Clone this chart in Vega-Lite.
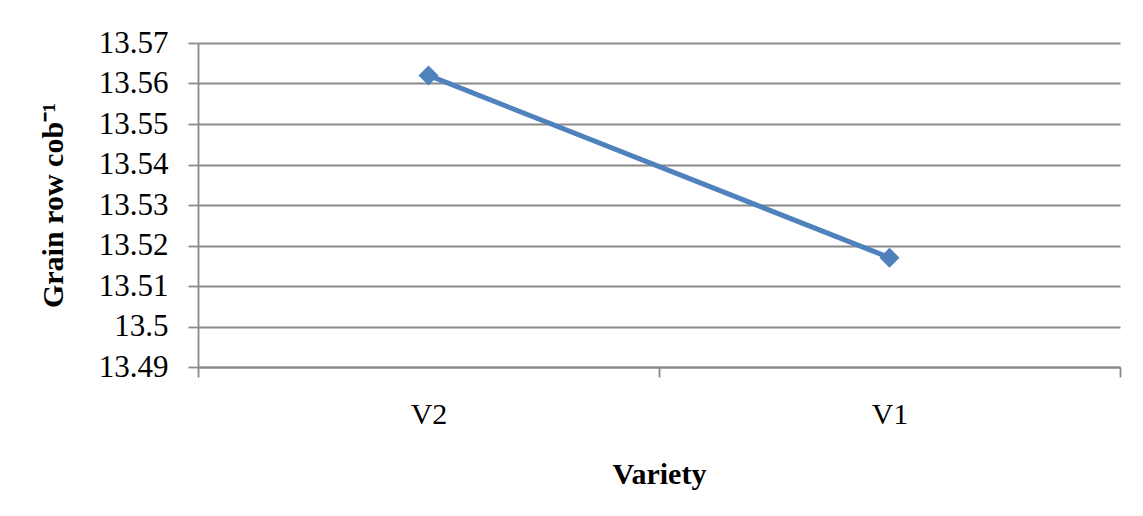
{
  "$schema": "https://vega.github.io/schema/vega-lite/v6.json",
  "width": 922,
  "height": 324,
  "autosize": "none",
  "padding": {"left": 198, "top": 43, "right": 23, "bottom": 149},
  "background": "white",
  "config": {
    "view": {"stroke": null},
    "font": "Liberation Serif"
  },
  "data": {
    "values": [
      {"Variety": "V2", "value": 13.562},
      {"Variety": "V1", "value": 13.517}
    ]
  },
  "mark": {
    "type": "line",
    "color": "#4F81BD",
    "strokeWidth": 5,
    "point": {"shape": "diamond", "size": 400, "filled": true, "color": "#4F81BD", "opacity": 1}
  },
  "encoding": {
    "x": {
      "field": "Variety",
      "type": "nominal",
      "sort": ["V2", "V1"],
      "scale": {"paddingInner": 0, "paddingOuter": 0},
      "axis": {
        "title": "Variety",
        "titleFont": "Liberation Serif",
        "titleFontSize": 30,
        "titleFontWeight": "bold",
        "titleColor": "black",
        "titlePadding": 30,
        "labelFont": "Liberation Serif",
        "labelFontSize": 30,
        "labelColor": "black",
        "labelAngle": 0,
        "labelPadding": 22,
        "tickBand": "extent",
        "tickSize": 10,
        "tickColor": "#8a8a8a",
        "tickWidth": 1.8,
        "domainColor": "#8a8a8a",
        "domainWidth": 1.8,
        "grid": false
      }
    },
    "y": {
      "field": "value",
      "type": "quantitative",
      "scale": {"domain": [13.49, 13.57], "zero": false, "nice": false},
      "axis": {
        "title": "Grain row cob⁻¹",
        "titleFont": "Liberation Serif",
        "titleFontSize": 30,
        "titleFontWeight": "bold",
        "titleColor": "black",
        "titlePadding": 30,
        "values": [13.49, 13.5, 13.51, 13.52, 13.53, 13.54, 13.55, 13.56, 13.57],
        "format": ".4~f",
        "labelFont": "Liberation Serif",
        "labelFontSize": 31,
        "labelColor": "black",
        "labelPadding": 20,
        "tickSize": 10,
        "tickColor": "#8a8a8a",
        "tickWidth": 1.8,
        "domainColor": "#8a8a8a",
        "domainWidth": 1.8,
        "grid": true,
        "gridColor": "#8a8a8a",
        "gridWidth": 1.8
      }
    }
  }
}
